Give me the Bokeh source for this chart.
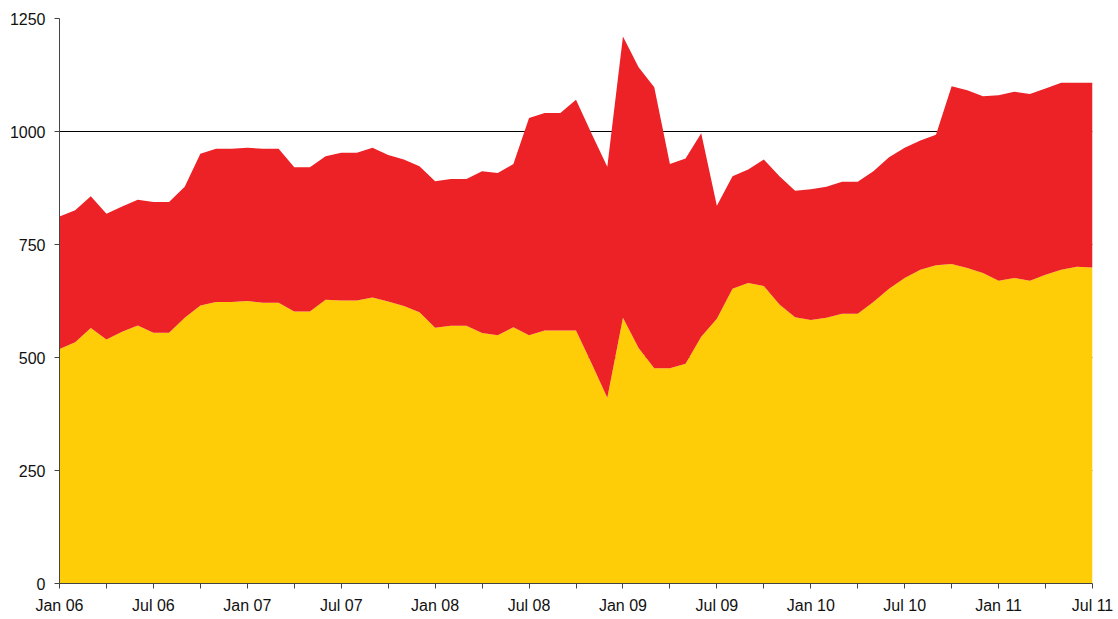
from bokeh.plotting import figure
from bokeh.models import ColumnDataSource, Range1d, FixedTicker
from bokeh.embed import file_html
from bokeh.resources import INLINE

# Monthly index, Jan 2006 .. Jul 2011
months = list(range(67))

yellow = [519, 534, 565, 540, 557, 571, 555, 555, 588, 615, 623, 623,
          625, 621, 621, 602, 602, 628, 626, 626, 633, 624, 614, 600,
          566, 570, 570, 554, 549, 567, 549, 560, 560, 560, 487, 411,
          588, 521, 476, 476, 486, 546, 586, 652, 665, 658, 617, 589,
          583, 588, 597, 597, 623, 652, 676, 694, 704, 707, 698, 687,
          670, 676, 670, 683, 694, 701, 699]

red = [293, 292, 292, 278, 277, 278, 289, 289, 290, 336, 339, 339,
       339, 341, 341, 319, 319, 317, 327, 327, 331, 324, 324, 323,
       324, 325, 325, 358, 359, 361, 481, 481, 481, 510, 508, 511,
       622, 621, 622, 452, 454, 450, 250, 249, 251, 280, 284, 280,
       289, 290, 292, 292, 289, 291, 288, 286, 289, 393, 393, 391,
       410, 412, 413, 412, 414, 407, 409]

tick_labels = ["Jan 06", "Jul 06", "Jan 07", "Jul 07", "Jan 08", "Jul 08",
               "Jan 09", "Jul 09", "Jan 10", "Jul 10", "Jan 11", "Jul 11"]
y_ticks = [0, 250, 500, 750, 1000, 1250]

FONT = "Liberation Sans"

source = ColumnDataSource(data=dict(x=months, yellow=yellow, red=red))

p = figure(width=1116, height=617, output_backend="svg", toolbar_location=None,
           x_range=Range1d(0, 66), y_range=Range1d(0, 1250))
p.min_border_left = 59
p.min_border_right = 24
p.min_border_top = 18
p.min_border_bottom = 34
p.outline_line_color = None
p.background_fill_color = "white"
p.border_fill_color = "white"

p.varea_stack(["yellow", "red"], x="x", color=["#FFCC08", "#EC2227"], source=source)

# Axes
major = [i * 6 for i in range(len(tick_labels))]
minor = [i * 6 + 3 for i in range(len(tick_labels) - 1)]
p.xaxis.ticker = FixedTicker(ticks=major, minor_ticks=minor)
p.xaxis.major_label_overrides = {m: lab for m, lab in zip(major, tick_labels)}
p.yaxis.ticker = FixedTicker(ticks=y_ticks)

for ax in (p.xaxis[0], p.yaxis[0]):
    ax.axis_line_color = "#444444"
    ax.axis_line_width = 1
    ax.major_tick_line_color = "#444444"
    ax.minor_tick_line_color = "#444444"
    ax.major_tick_in = 0
    ax.major_tick_out = 5
    ax.minor_tick_in = 0
    ax.minor_tick_out = 5
    ax.major_label_text_font = FONT
    ax.major_label_text_font_size = "16px"
    ax.major_label_text_color = "#111111"

p.yaxis.minor_tick_line_color = None
p.xaxis.major_label_standoff = 8
p.yaxis.major_label_standoff = 9

p.xgrid.grid_line_color = None
p.ygrid.grid_line_color = "#000000"
p.ygrid.grid_line_width = 1

open("out.html", "w").write(file_html(p, INLINE))
